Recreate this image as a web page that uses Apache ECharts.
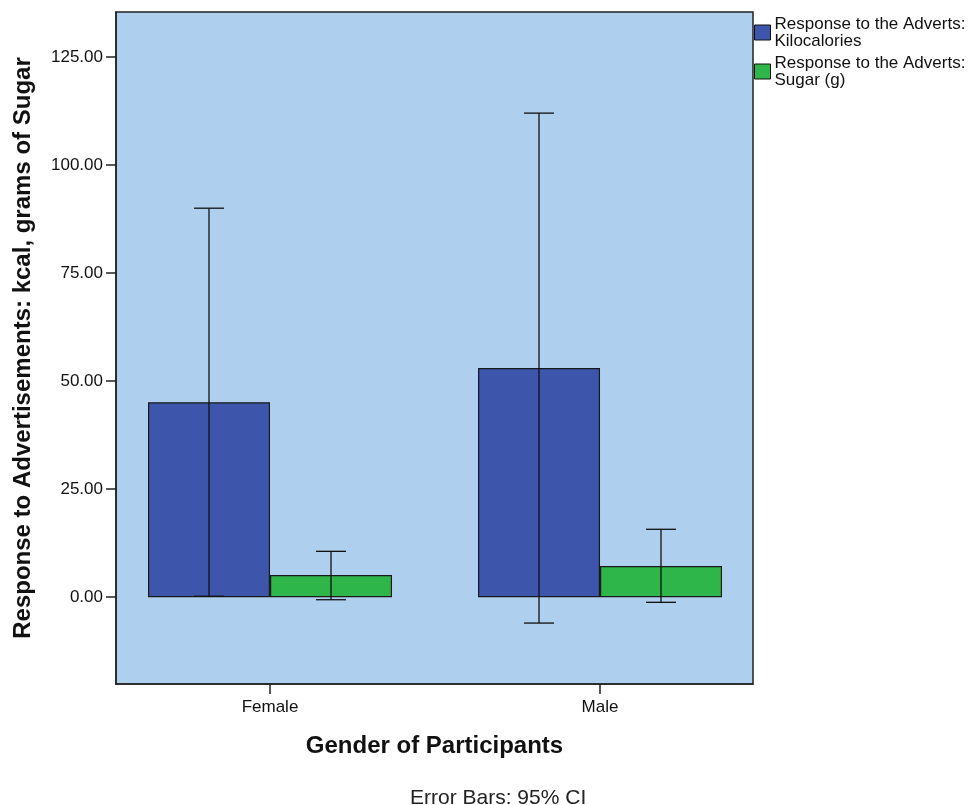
<!DOCTYPE html>
<html>
<head>
<meta charset="utf-8">
<script src="https://cdn.jsdelivr.net/npm/echarts@6/dist/echarts.min.js"></script>
<style>
html,body{margin:0;padding:0;background:#fff;}
#chart{width:979px;height:805px;}
</style>
</head>
<body>
<div id="chart"></div>
<script>
const categories = ['Female', 'Male'];
const seriesNames = ['Response to the Adverts:\nKilocalories', 'Response to the Adverts:\nSugar (g)'];
const kcalMeans = [45.1, 53.0];
const kcalLow = [0.2, -6.0];
const kcalHigh = [90.0, 112.0];
const sugarMeans = [5.1, 7.2];
const sugarLow = [-0.6, -1.2];
const sugarHigh = [10.6, 15.7];
const yTicks = [0, 25, 50, 75, 100, 125];
const xTicks = [0, 1];

const FONT = 'Liberation Sans, Arial, sans-serif';
const colors = ['#3D56AB', '#2EB64A'];
const BAR_W = 122;

function pairs(vals) { return vals.map((v, i) => [i, v]); }
function errData(lows, highs) { return categories.map((c, i) => [i, lows[i], highs[i]]); }
function makeErr(name, sIdx, lows, highs) {
  return {
    type: 'custom',
    name: name,
    z: 5,
    data: errData(lows, highs),
    encode: { x: 0, y: [1, 2] },
    renderItem: function (params, api) {
      const ci = api.value(0);
      const lo = api.coord([ci, api.value(1)]);
      const hi = api.coord([ci, api.value(2)]);
      const cx = lo[0] + (sIdx === 0 ? -BAR_W / 2 : BAR_W / 2);
      const half = 15;
      const st = { stroke: '#111', lineWidth: 1.3 };
      return {
        type: 'group',
        children: [
          { type: 'line', shape: { x1: cx, y1: lo[1], x2: cx, y2: hi[1] }, style: st },
          { type: 'line', shape: { x1: cx - half, y1: hi[1], x2: cx + half, y2: hi[1] }, style: st },
          { type: 'line', shape: { x1: cx - half, y1: lo[1], x2: cx + half, y2: lo[1] }, style: st }
        ]
      };
    }
  };
}

const chart = echarts.init(document.getElementById('chart'), null, { renderer: 'canvas' });
chart.setOption({
  animation: false,
  backgroundColor: '#ffffff',
  textStyle: { fontFamily: FONT },
  grid: { left: 116, right: 226, top: 12, bottom: 121, show: true, backgroundColor: '#AECFED', borderColor: '#222', borderWidth: 1.5 },
  legend: {
    orient: 'vertical',
    left: 754,
    top: 14,
    itemWidth: 16,
    itemHeight: 15,
    itemGap: 2,
    padding: [0, 0, 0, 0],
    data: seriesNames,
    icon: 'rect',
    itemStyle: { borderColor: '#111', borderWidth: 1 },
    textStyle: { fontSize: 17, lineHeight: 17, color: '#111', padding: [3, 0, 0, -1], fontFamily: FONT }
  },
  xAxis: {
    type: 'value',
    min: -0.4667,
    max: 1.4636,
    name: 'Gender of Participants',
    nameLocation: 'middle',
    nameGap: 50,
    nameTextStyle: { fontSize: 24, fontWeight: 'bold', color: '#111' },
    axisLine: { onZero: false, lineStyle: { color: '#222', width: 1.5 } },
    axisTick: { length: 10, customValues: xTicks, lineStyle: { color: '#222', width: 1.5 } },
    axisLabel: { fontSize: 17, color: '#111', margin: 15, customValues: xTicks, formatter: v => categories[v] },
    splitLine: { show: false }
  },
  yAxis: {
    type: 'value',
    min: -20.1,
    max: 135.4,
    name: 'Response to Advertisements: kcal, grams of Sugar',
    nameLocation: 'middle',
    nameGap: 81,
    nameTextStyle: { fontSize: 24, fontWeight: 'bold', color: '#111' },
    axisLine: { show: true, onZero: false, lineStyle: { color: '#222', width: 1.5 } },
    axisTick: { show: true, length: 10, customValues: yTicks, lineStyle: { color: '#222', width: 1.5 } },
    axisLabel: { fontSize: 17, color: '#111', margin: 13, customValues: yTicks, formatter: v => v.toFixed(2) },
    splitLine: { show: false }
  },
  series: [
    {
      type: 'bar', name: seriesNames[0], data: pairs(kcalMeans),
      barGap: 0, barWidth: BAR_W,
      itemStyle: { color: colors[0], borderColor: '#1a1a1a', borderWidth: 1.2 }
    },
    {
      type: 'bar', name: seriesNames[1], data: pairs(sugarMeans),
      barGap: 0, barWidth: BAR_W,
      itemStyle: { color: colors[1], borderColor: '#1a1a1a', borderWidth: 1.2 }
    },
    makeErr(seriesNames[0], 0, kcalLow, kcalHigh),
    makeErr(seriesNames[1], 1, sugarLow, sugarHigh)
  ],
  graphic: [
    { type: 'text', left: 410, top: 788, style: { text: 'Error Bars: 95% CI', fontSize: 21, fill: '#222', fontFamily: FONT } }
  ]
});
</script>
</body>
</html>
